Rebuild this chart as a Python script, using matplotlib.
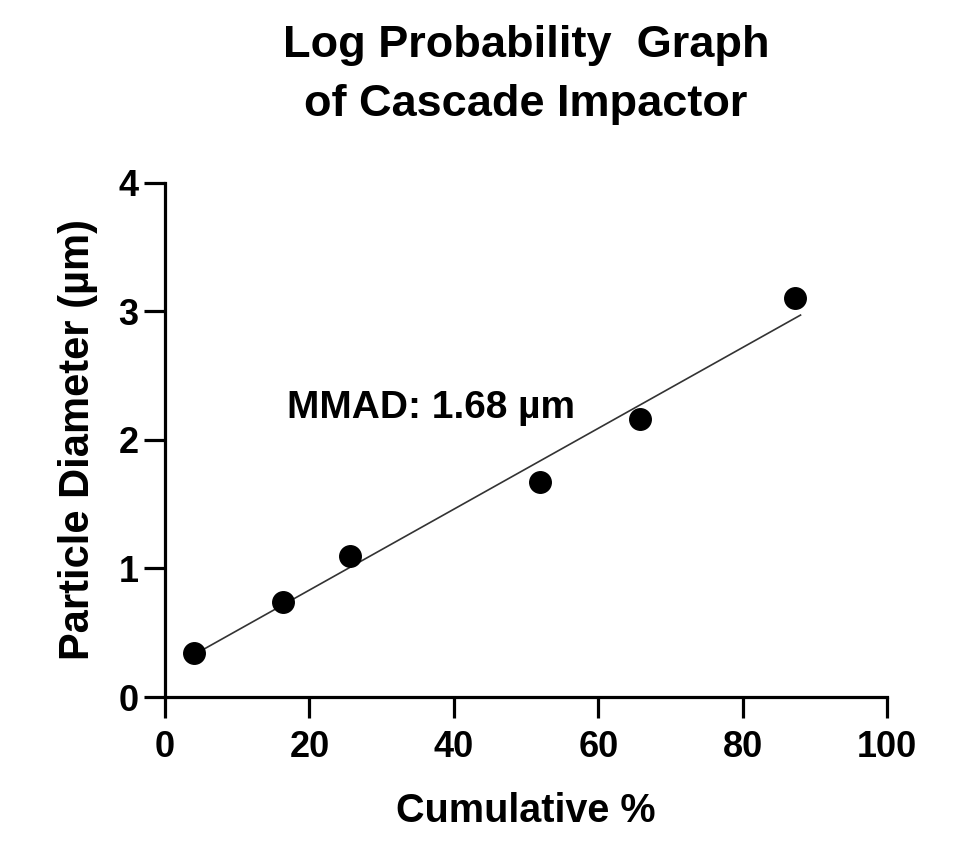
import numpy as np
import matplotlib as mpl
mpl.use('Agg')
import matplotlib.pyplot as plt

plt.rcParams['font.family'] = ['Liberation Sans', 'DejaVu Sans']
plt.rcParams['font.weight'] = 'bold'

# data
cumulative = [4.0, 16.3, 25.6, 51.9, 65.8, 87.3]
diameter = [0.34, 0.74, 1.10, 1.67, 2.16, 3.10]
fit_range = [4.8, 88.0]
mmad_label = "MMAD: 1.68 µm"

x_ticks = [0, 20, 40, 60, 80, 100]
y_ticks = [0, 1, 2, 3, 4]

fig = plt.figure(figsize=(9.68, 8.6), dpi=100)
ax = fig.add_axes([0.1705, 0.1895, 0.746, 0.598])

# linear fit line
slope, intercept = np.polyfit(cumulative, diameter, 1)
fx = np.array(fit_range)
ax.plot(fx, slope * fx + intercept, color='#333333', lw=1.2, zorder=2)

ax.plot(cumulative, diameter, 'o', color='black', ms=15.5, zorder=3, clip_on=False)

ax.text(16.9, 2.25, mmad_label, fontsize=28, fontweight='bold', va='center', ha='left')

ax.set_xlim(0, 100)
ax.set_ylim(0, 4)
ax.set_xticks(x_ticks)
ax.set_yticks(y_ticks)

for s in ['top', 'right']:
    ax.spines[s].set_visible(False)
for s in ['left', 'bottom']:
    ax.spines[s].set_linewidth(2.3)

ax.tick_params(axis='both', width=2.3, length=15, labelsize=26)
ax.tick_params(axis='x', pad=9)
ax.tick_params(axis='y', pad=4)

ax.set_xlabel("Cumulative %", fontsize=28.5, fontweight='bold', labelpad=19)
ax.set_ylabel("Particle Diameter (µm)", fontsize=30, fontweight='bold', labelpad=15)
ax.set_title("Log Probability  Graph\nof Cascade Impactor", fontsize=32.5, fontweight='bold',
             pad=48, linespacing=1.55)

plt.savefig('out.png', dpi=100)
